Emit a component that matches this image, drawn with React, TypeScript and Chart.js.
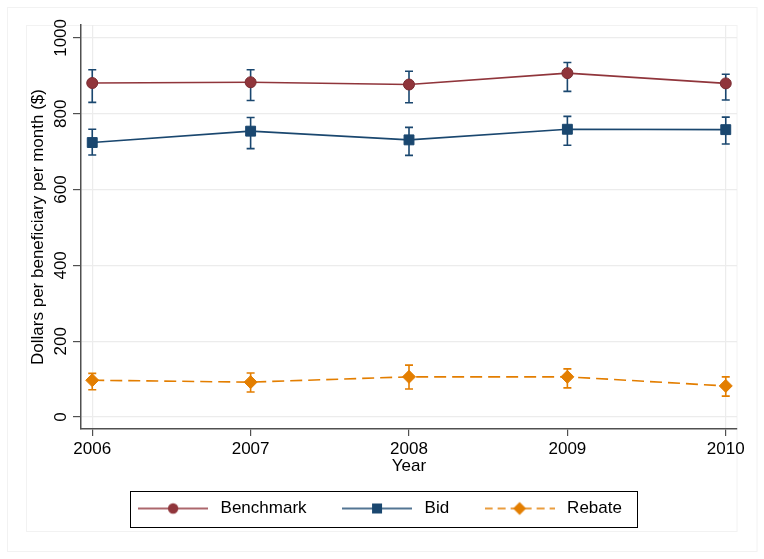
import React, { useEffect, useRef } from "react";
import { Chart, registerables } from "chart.js";

Chart.register(...registerables);

// ---------- data ----------
const years = [2006, 2007, 2008, 2009, 2010];
const xTickLabels = ["2006", "2007", "2008", "2009", "2010"];
const yTickValues = [0, 200, 400, 600, 800, 1000];
const yTickLabels = ["0", "200", "400", "600", "800", "1000"];
const seriesNames = ["Benchmark", "Bid", "Rebate"];

const benchmark = [881, 883, 877, 907, 880];
const benchmarkLow = [830, 835, 829, 859, 836];
const benchmarkHigh = [916, 916, 912, 935, 904];

const bid = [724, 754, 731, 759, 758];
const bidLow = [691, 708, 690, 717, 720];
const bidHigh = [759, 790, 764, 793, 791];

const rebate = [97, 92, 106, 106, 82];
const rebateLow = [72, 66, 74, 77, 55];
const rebateHigh = [115, 116, 137, 127, 106];

const axisTitleY = "Dollars per beneficiary per month ($)";
const axisTitleX = "Year";

// ---------- style ----------
const FONT = "'Liberation Sans', Arial, sans-serif";
const MAROON = "#90353b";
const NAVY = "#1a476f";
const ORANGE = "#e37e00";
const GRID = "#ececec";
const AXIS = "#505050";

function makeLegendImage(color: string, marker: string, dashed: boolean) {
  const c = document.createElement("canvas");
  c.width = 70;
  c.height = 16;
  const g = c.getContext("2d")!;
  g.strokeStyle = color;
  g.lineWidth = 1.6;
  if (dashed) g.setLineDash([8, 5]);
  g.beginPath();
  g.moveTo(0, 8);
  g.lineTo(70, 8);
  g.stroke();
  g.setLineDash([]);
  g.fillStyle = color;
  g.beginPath();
  if (marker === "circle") {
    g.arc(35, 8, 5.2, 0, Math.PI * 2);
  } else if (marker === "rect") {
    g.rect(30, 3, 10, 10);
  } else {
    g.moveTo(35, 1.5);
    g.lineTo(41.5, 8);
    g.lineTo(35, 14.5);
    g.lineTo(28.5, 8);
    g.closePath();
  }
  g.fill();
  return c;
}

const framePlugin = {
  id: "frames",
  beforeDraw(chart: any) {
    const ctx = chart.ctx;
    ctx.save();
    ctx.strokeStyle = "#f2f2f2";
    ctx.lineWidth = 1;
    ctx.strokeRect(7.5, 7.5, 749.5, 544);
    ctx.strokeRect(26.5, 25.5, 710.5, 506);
    ctx.restore();
  },
};

const errorBarPlugin = {
  id: "errorBars",
  beforeDatasetsDraw(chart: any) {
    const ctx = chart.ctx;
    const xs = chart.scales.x;
    const ys = chart.scales.y;
    chart.data.datasets.forEach((ds: any) => {
      if (!ds.errLow) return;
      ctx.save();
      ctx.strokeStyle = ds.errColor;
      ctx.lineWidth = 1.6;
      ds.data.forEach((p: any, i: number) => {
        const x = xs.getPixelForValue(p.x);
        const yl = ys.getPixelForValue(ds.errLow[i]);
        const yh = ys.getPixelForValue(ds.errHigh[i]);
        ctx.beginPath();
        ctx.moveTo(x, yl);
        ctx.lineTo(x, yh);
        ctx.moveTo(x - 4, yl);
        ctx.lineTo(x + 4, yl);
        ctx.moveTo(x - 4, yh);
        ctx.lineTo(x + 4, yh);
        ctx.stroke();
      });
      ctx.restore();
    });
  },
};

const legendBoxPlugin = {
  id: "legendBox",
  afterDraw(chart: any) {
    const lg = chart.legend;
    if (!lg || !lg.legendHitBoxes || !lg.legendHitBoxes.length) return;
    const hb = lg.legendHitBoxes;
    const first = hb[0];
    const last = hb[hb.length - 1];
    const cy = first.top + first.height / 2;
    const left = first.left - 4;
    const right = last.left + last.width + 15;
    const ctx = chart.ctx;
    ctx.save();
    ctx.strokeStyle = "#000";
    ctx.lineWidth = 1;
    ctx.strokeRect(Math.round(left) + 0.5, Math.round(cy - 18) + 0.5, Math.round(right - left), 36);
    ctx.restore();
  },
};

export default function App() {
  const ref = useRef<HTMLCanvasElement | null>(null);

  useEffect(() => {
    const canvas = ref.current;
    if (!canvas) return;
    const legendImgs = [
      makeLegendImage(MAROON, "circle", false),
      makeLegendImage(NAVY, "rect", false),
      makeLegendImage(ORANGE, "diamond", true),
    ];
    const pts = (vals: number[]) => years.map((y, i) => ({ x: y, y: vals[i] }));

    const chart = new Chart(canvas, {
      type: "line",
      data: {
        datasets: [
          {
            label: seriesNames[0],
            data: pts(benchmark),
            borderColor: MAROON,
            borderWidth: 1.6,
            pointStyle: "circle",
            pointRadius: 5.5,
            pointBackgroundColor: MAROON,
            pointBorderColor: "#7a2c32",
            pointBorderWidth: 1,
            errLow: benchmarkLow,
            errHigh: benchmarkHigh,
            errColor: NAVY,
          } as any,
          {
            label: seriesNames[1],
            data: pts(bid),
            borderColor: NAVY,
            borderWidth: 1.6,
            pointStyle: "rect",
            pointRadius: 7,
            pointBackgroundColor: NAVY,
            pointBorderColor: NAVY,
            pointBorderWidth: 1,
            errLow: bidLow,
            errHigh: bidHigh,
            errColor: NAVY,
          } as any,
          {
            label: seriesNames[2],
            data: pts(rebate),
            borderColor: ORANGE,
            borderWidth: 1.6,
            borderDash: [12, 6],
            pointStyle: "rectRot",
            pointRadius: 6.5,
            pointBackgroundColor: ORANGE,
            pointBorderColor: ORANGE,
            pointBorderWidth: 1,
            errLow: rebateLow,
            errHigh: rebateHigh,
            errColor: ORANGE,
          } as any,
        ],
      },
      options: {
        responsive: false,
        animation: false,
        devicePixelRatio: 1,
        layout: { padding: { left: 0, right: 8, top: 25, bottom: 32 } },
        plugins: {
          tooltip: { enabled: false },
          legend: {
            display: true,
            position: "bottom",
            align: "center",
            labels: {
              usePointStyle: true,
              pointStyleWidth: 78,
              padding: 31.5,
              color: "#000",
              font: { family: FONT, size: 17 },
              generateLabels: (ch: any) =>
                ch.data.datasets.map((ds: any, i: number) => ({
                  text: ds.label,
                  pointStyle: legendImgs[i],
                  fillStyle: "rgba(0,0,0,0)",
                  strokeStyle: "rgba(0,0,0,0)",
                  lineWidth: 0,
                  hidden: false,
                  datasetIndex: i,
                  fontColor: "#000",
                })),
            },
          },
        },
        scales: {
          x: {
            type: "linear",
            position: "bottom",
            min: 2005.929,
            max: 2010.071,
            afterBuildTicks: (s: any) => {
              s.ticks = years.map((v) => ({ value: v }));
            },
            afterFit: (s: any) => {
              s.height = 39.5;
            },
            grid: {
              color: (c: any) =>
                c.tick && (c.tick.value === years[0] || c.tick.value === years[years.length - 1])
                  ? GRID
                  : "rgba(0,0,0,0)",
              lineWidth: 1.2,
              tickColor: AXIS,
              tickLength: 7,
              tickWidth: 1.2,
            },
            border: { display: true, color: AXIS, width: 1.5 },
            ticks: {
              autoSkip: false,
              maxRotation: 0,
              minRotation: 0,
              padding: 3,
              color: "#000",
              font: { family: FONT, size: 17 },
              callback: (v: any) => xTickLabels[years.indexOf(Number(v))] ?? "",
            },
            title: {
              display: true,
              text: axisTitleX,
              color: "#000",
              font: { family: FONT, size: 17 },
              padding: { top: 0, bottom: -7.7 },
            },
          },
          y: {
            type: "linear",
            position: "left",
            min: -31.6,
            max: 1034,
            afterBuildTicks: (s: any) => {
              s.ticks = yTickValues.map((v) => ({ value: v }));
            },
            afterFit: (s: any) => {
              s.width = 81;
            },
            grid: {
              color: GRID,
              lineWidth: 1.2,
              tickColor: AXIS,
              tickLength: 8,
              tickWidth: 1.2,
            },
            border: { display: true, color: AXIS, width: 1.5 },
            ticks: {
              autoSkip: false,
              minRotation: 90,
              maxRotation: 90,
              crossAlign: "center",
              padding: -6.9,
              color: "#000",
              font: { family: FONT, size: 17 },
              callback: (v: any) => yTickLabels[yTickValues.indexOf(Number(v))] ?? "",
            },
            title: {
              display: true,
              text: axisTitleY,
              color: "#000",
              font: { family: FONT, size: 17 },
              padding: { top: 27.8, bottom: 0 },
            },
          },
          yR: {
            type: "linear",
            position: "right",
            display: true,
            afterFit: (s: any) => {
              s.width = 19;
            },
            grid: { display: false, drawTicks: false },
            border: { display: false },
            ticks: { display: false },
            title: { display: false },
          },
        },
      } as any,
      plugins: [framePlugin, errorBarPlugin, legendBoxPlugin],
    });

    return () => {
      chart.destroy();
    };
  }, []);

  return (
    <div style={{ position: "fixed", left: 0, top: 0, width: 764, height: 559, background: "#fff" }}>
      <canvas ref={ref} width={764} height={559} style={{ width: 764, height: 559, display: "block" }} />
    </div>
  );
}
